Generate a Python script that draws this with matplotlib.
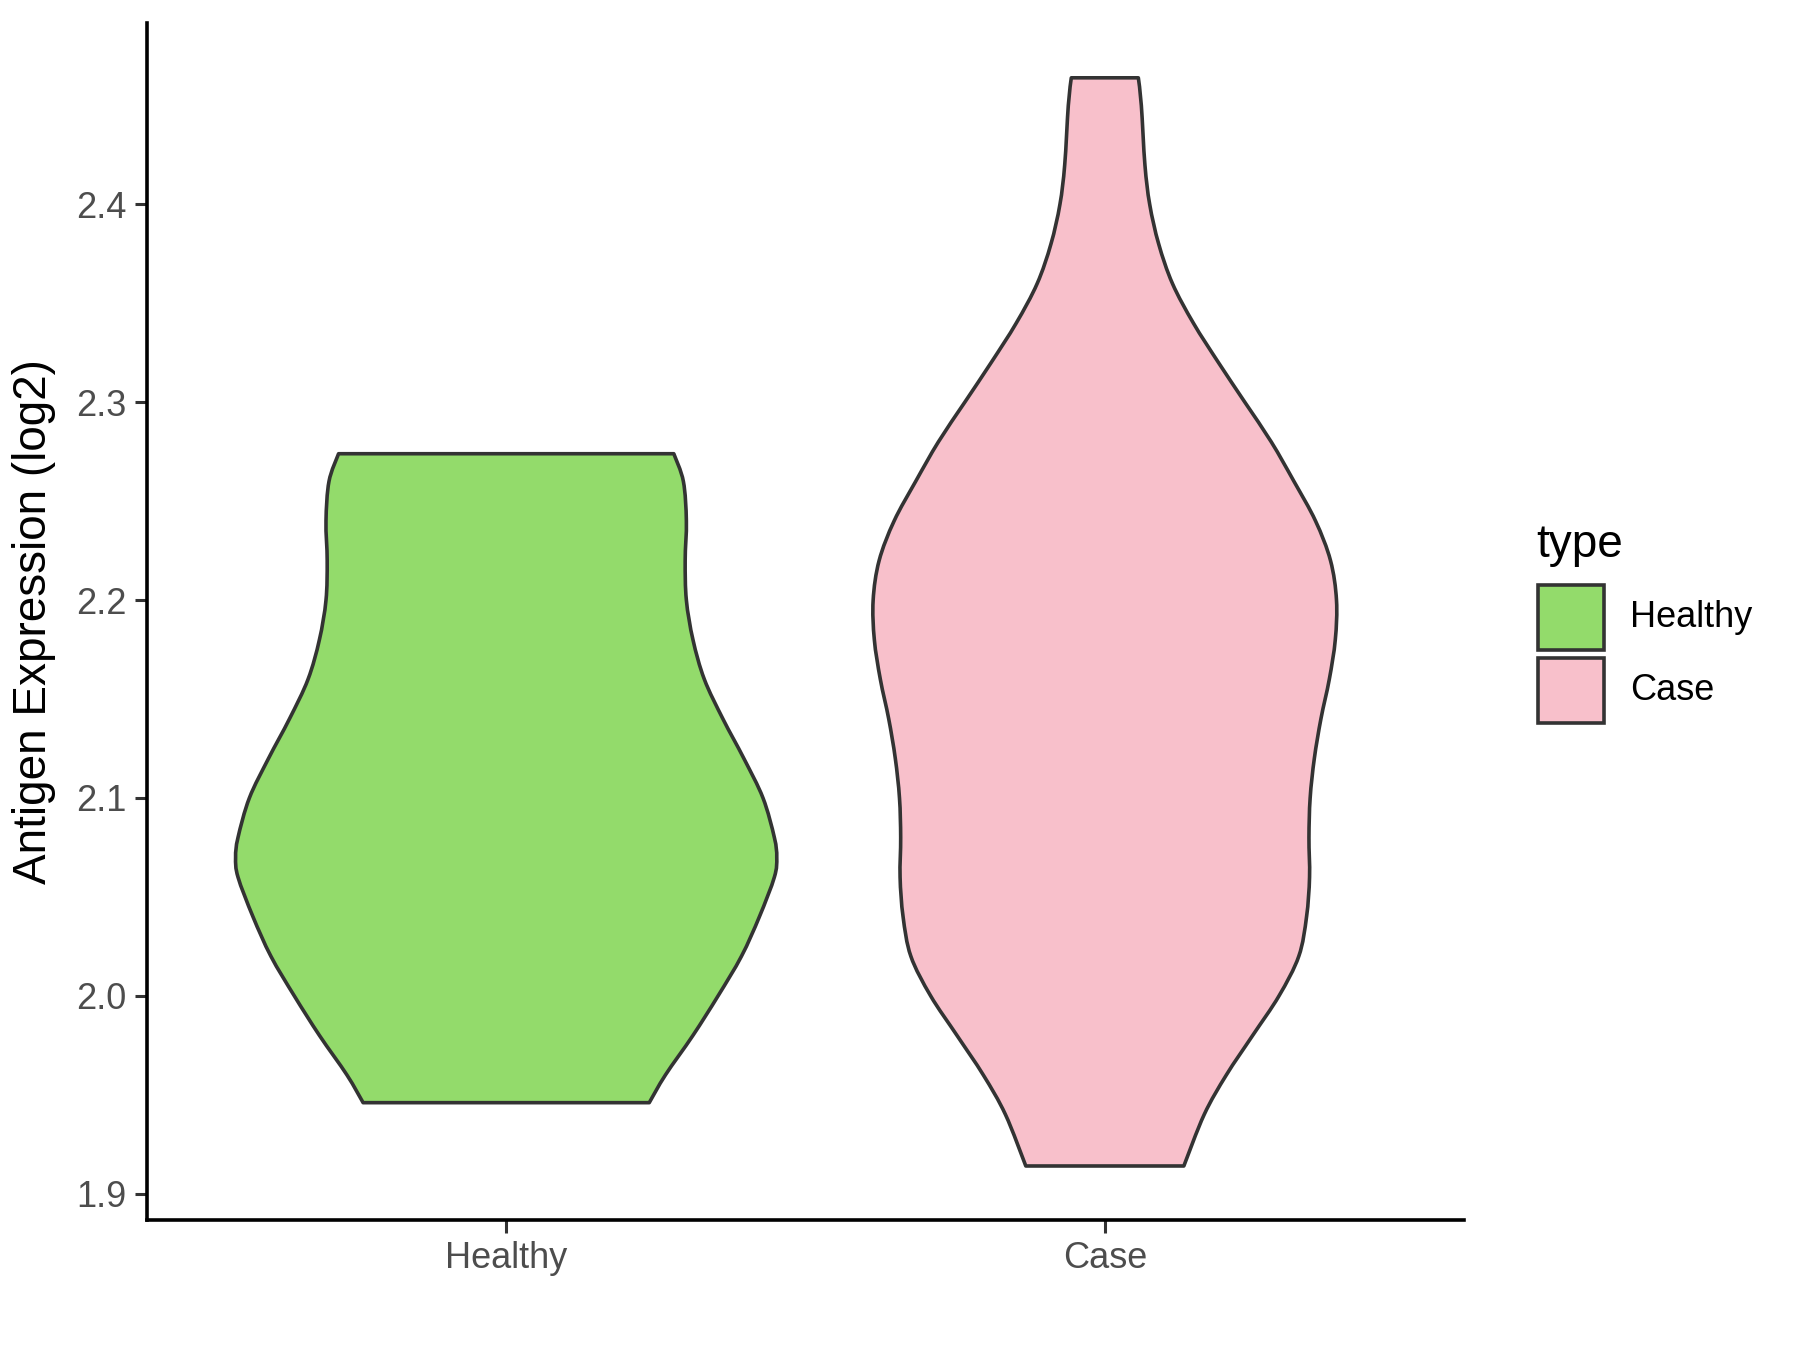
import numpy as np
import matplotlib
matplotlib.use("Agg")
import matplotlib.pyplot as plt
from matplotlib.patches import Rectangle, PathPatch
from matplotlib.path import Path

plt.rcParams['font.family'] = ['Liberation Sans', 'DejaVu Sans']

# ---- data ----
categories = ["Healthy", "Case"]
colors = ["#93DB6B", "#F8C0CB"]

healthy_y = [1.946, 1.96, 1.98, 2.00, 2.02, 2.04, 2.06, 2.07, 2.08, 2.10, 2.12,
             2.14, 2.16, 2.18, 2.20, 2.22, 2.24, 2.26, 2.274]
healthy_w = [0.239, 0.266, 0.312, 0.354, 0.393, 0.423, 0.448, 0.452, 0.448, 0.429, 0.397,
             0.362, 0.331, 0.312, 0.301, 0.299, 0.301, 0.296, 0.280]

case_y = [1.914, 1.94, 1.96, 1.98, 2.00, 2.02, 2.04, 2.06, 2.08, 2.10, 2.12, 2.14,
          2.16, 2.18, 2.20, 2.22, 2.24, 2.26, 2.28, 2.30, 2.32, 2.34, 2.36, 2.38,
          2.40, 2.42, 2.45, 2.464]
case_w = [0.132, 0.166, 0.203, 0.247, 0.291, 0.324, 0.337, 0.342, 0.341, 0.343, 0.350, 0.361,
          0.375, 0.385, 0.387, 0.377, 0.352, 0.316, 0.278, 0.234, 0.190, 0.148, 0.113, 0.090,
          0.075, 0.067, 0.061, 0.056]

yticks = [1.9, 2.0, 2.1, 2.2, 2.3, 2.4]
ytick_labels = ["1.9", "2.0", "2.1", "2.2", "2.3", "2.4"]

profiles = [(healthy_y, healthy_w), (case_y, case_w)]


def smooth_side(px, py):
    """Catmull-Rom -> cubic Bezier path segments through the given points."""
    pts = np.column_stack([px, py])
    n = len(pts)
    verts, codes = [], []
    for i in range(n - 1):
        p0 = pts[max(i - 1, 0)]
        p1 = pts[i]
        p2 = pts[i + 1]
        p3 = pts[min(i + 2, n - 1)]
        c1 = p1 + (p2 - p0) / 6.0
        c2 = p2 - (p3 - p1) / 6.0
        verts += [tuple(c1), tuple(c2), tuple(p2)]
        codes += [Path.CURVE4] * 3
    return verts, codes


def violin_path(center, yy, ww):
    yy = np.asarray(yy, float)
    ww = np.asarray(ww, float)
    right_x = center + ww
    left_x = center - ww
    verts = [(left_x[0], yy[0]), (right_x[0], yy[0])]
    codes = [Path.MOVETO, Path.LINETO]
    v, c = smooth_side(right_x, yy)
    verts += v
    codes += c
    verts.append((left_x[-1], yy[-1]))
    codes.append(Path.LINETO)
    v, c = smooth_side(left_x[::-1], yy[::-1])
    verts += v
    codes += c
    verts.append((left_x[0], yy[0]))
    codes.append(Path.CLOSEPOLY)
    return Path(verts, codes)


# ---- figure ----
W, H = 1800, 1350
fig = plt.figure(figsize=(W / 100, H / 100), dpi=100)
ax = fig.add_axes([147 / W, 1 - 1220 / H, (1464 - 147) / W, (1220 - 23) / H])

edge = "#333333"
for i, (cat, col, (yy, ww)) in enumerate(zip(categories, colors, profiles), start=1):
    patch = PathPatch(violin_path(i, yy, ww), facecolor=col, edgecolor=edge,
                      linewidth=2.6, joinstyle='round', zorder=2)
    ax.add_patch(patch)

ax.set_xlim(0.4, 2.6)
ax.set_ylim(1.8867, 2.4917)
ax.set_xticks([1, 2])
ax.set_xticklabels(categories)
ax.set_yticks(yticks)
ax.set_yticklabels(ytick_labels)

for s in ["top", "right"]:
    ax.spines[s].set_visible(False)
for s in ["left", "bottom"]:
    ax.spines[s].set_linewidth(2.6)
    ax.spines[s].set_color("black")
    ax.spines[s].set_capstyle('projecting')

ax.tick_params(axis='both', length=9, width=2.2, color="#333333",
               labelsize=26, labelcolor="#4D4D4D")
ax.tick_params(axis='y', pad=6)
ax.tick_params(axis='x', pad=6)

ax.set_ylabel("Antigen Expression (log2)", fontsize=33, color="black", labelpad=14)

# ---- legend (drawn manually, ggplot style) ----
fig.text(1536 / W, 1 - 557 / H, "type", fontsize=33, color="black",
         ha="left", va="baseline")
key_x, key_w = 1538, 66
key_tops = [585, 658]
for cat, col, top in zip(categories, colors, key_tops):
    fig.patches.append(Rectangle((key_x / W, 1 - (top + 65) / H), key_w / W, 65 / H,
                                 transform=fig.transFigure, facecolor=col,
                                 edgecolor=edge, linewidth=2.6, zorder=3))
    fig.text(1630 / W, 1 - (top + 32.5) / H, cat, fontsize=26, color="black",
             ha="left", va="center")

fig.savefig("out.png", dpi=100, facecolor="white")
